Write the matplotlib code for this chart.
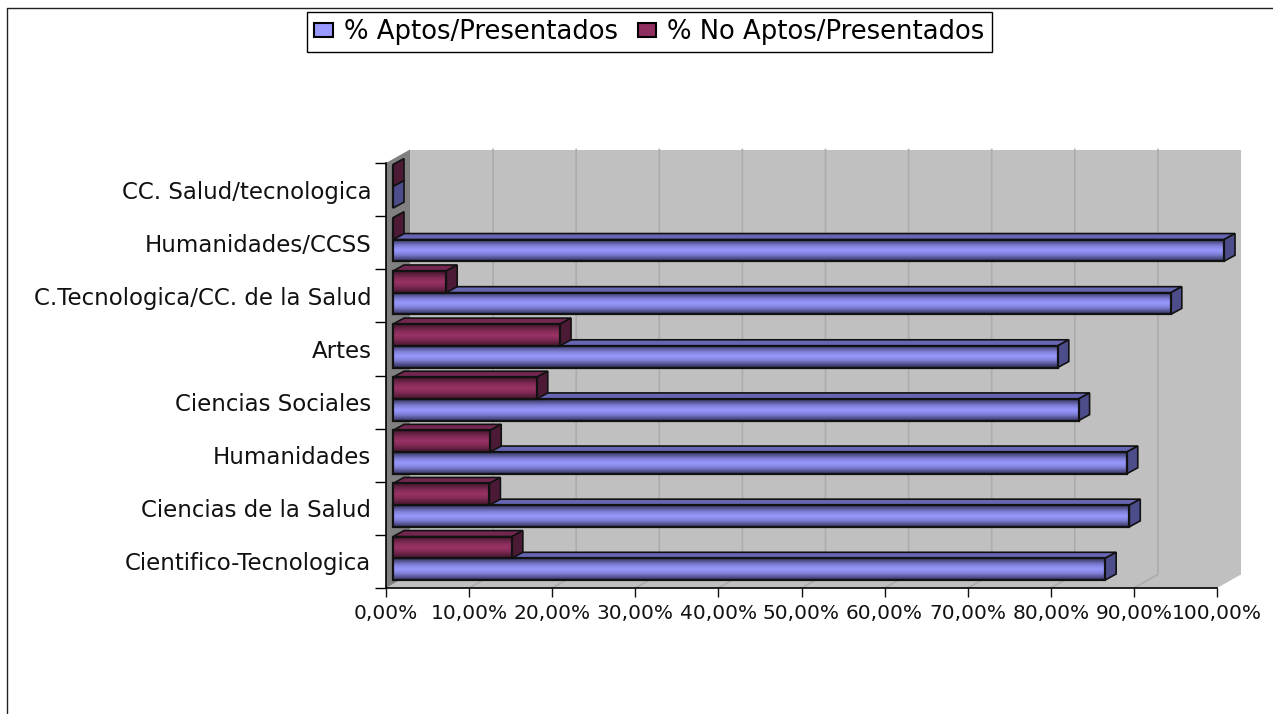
import numpy as np
import matplotlib
matplotlib.use("Agg")
import matplotlib.pyplot as plt
from matplotlib.colors import LinearSegmentedColormap
from matplotlib.lines import Line2D
from matplotlib.patches import Patch, Polygon

categories = ["Cientifico-Tecnologica", "Ciencias de la Salud", "Humanidades",
              "Ciencias Sociales", "Artes", "C.Tecnologica/CC. de la Salud",
              "Humanidades/CCSS", "CC. Salud/tecnologica"]
aptos = [85.7, 88.6, 88.3, 82.5, 80.0, 93.6, 100.0, 0.0]
no_aptos = [14.3, 11.6, 11.7, 17.3, 20.1, 6.4, 0.0, 0.0]
x_ticks = [0, 10, 20, 30, 40, 50, 60, 70, 80, 90, 100]
x_labels = ["0,00%", "10,00%", "20,00%", "30,00%", "40,00%", "50,00%",
            "60,00%", "70,00%", "80,00%", "90,00%", "100,00%"]

W, H = 1273, 714
# one category is 53.1 px tall, 10% is 83.1 px wide
PX_X = 100 / 831
PX_Y = 8 / 425
wall_dx, wall_dy = 24 * PX_X, 13.5 * PX_Y
bar_x0 = 7 * PX_X
bar_h = 21.7 * PX_Y
bar_y0 = 8 * PX_Y
depth_dx, depth_dy = 11 * PX_X, 6 * PX_Y

blue = LinearSegmentedColormap.from_list(
    "blue", [(0, "#34345f"), (0.3, "#8080d8"), (0.5, "#9999ff"), (0.7, "#8080d8"), (1, "#34345f")])
red = LinearSegmentedColormap.from_list(
    "red", [(0, "#43162d"), (0.3, "#822b56"), (0.5, "#993366"), (0.7, "#822b56"), (1, "#43162d")])

plt.rcParams["font.family"] = "DejaVu Sans"
fig = plt.figure(figsize=(W / 100, H / 100), dpi=100)
ax = fig.add_axes([386 / W, (H - 588) / H, 831 / W, 425 / H])
ax.patch.set_visible(False)


def poly(points, color, z, edge="none", lw=0):
    ax.add_patch(Polygon(points, closed=True, facecolor=color, edgecolor=edge,
                         linewidth=lw, zorder=z, clip_on=False))


def bar3d(value, y0, cmap, top, side, z):
    x0, x1 = bar_x0, bar_x0 + value
    y1 = y0 + bar_h
    poly([(x0, y1), (x1, y1), (x1 + depth_dx, y1 + depth_dy), (x0 + depth_dx, y1 + depth_dy)],
         top, z, "#111111", 1.2)
    poly([(x1, y0), (x1 + depth_dx, y0 + depth_dy), (x1 + depth_dx, y1 + depth_dy), (x1, y1)],
         side, z, "#111111", 1.2)
    if value > 0:
        ax.imshow(np.linspace(0, 1, 32)[:, None], cmap=cmap, aspect="auto",
                  extent=(x0, x1, y0, y1), zorder=z, clip_on=False)
    poly([(x0, y0), (x1, y0), (x1, y1), (x0, y1)], "none", z, "#111111", 1.6)


n = len(categories)
# walls and floor
poly([(wall_dx, wall_dy), (100 + wall_dx, wall_dy), (100 + wall_dx, n + wall_dy), (wall_dx, n + wall_dy)],
     "#c0c0c0", 1)
poly([(0, 0), (100, 0), (100 + wall_dx, wall_dy), (wall_dx, wall_dy)], "#c0c0c0", 1)
poly([(0, 0), (wall_dx, wall_dy), (wall_dx, n + wall_dy), (0, n)], "#808080", 1)
for t in x_ticks[1:-1]:
    ax.plot([t, t + wall_dx, t + wall_dx], [0, wall_dy, n + wall_dy], color="#acacac",
            lw=1.2, zorder=2, clip_on=False)

for i in range(n - 1, -1, -1):
    z = 10 + (n - i) * 2
    bar3d(aptos[i], i + bar_y0, blue, "#6666b3", "#4d4d8c", z)
    bar3d(no_aptos[i], i + bar_y0 + bar_h, red, "#732650", "#4d1a36", z + 1)

ax.set_xlim(0, 100)
ax.set_ylim(0, n)
for s in ["top", "right"]:
    ax.spines[s].set_visible(False)
for s in ["left", "bottom"]:
    ax.spines[s].set_linewidth(1.2)
    ax.spines[s].set_zorder(40)

ax.set_xticks(x_ticks)
ax.set_xticklabels(x_labels, fontsize=14.5)
ax.tick_params(axis="x", length=6.5, width=1, pad=5, colors="#111111")
ax.set_yticks(range(n + 1))
ax.set_yticklabels([])
ax.set_yticks(np.arange(n) + 0.5, minor=True)
ax.set_yticklabels(categories, minor=True, fontsize=16.5)
ax.tick_params(axis="y", which="major", length=8, width=1)
ax.tick_params(axis="y", which="minor", length=0, pad=10.5, colors="#111111")

handles = [Patch(facecolor="#9999ff", edgecolor="black", linewidth=1.5),
           Patch(facecolor="#8f2f60", edgecolor="black", linewidth=1.5)]
leg = fig.legend(handles, ["% Aptos/Presentados", "% No Aptos/Presentados"], ncol=2,
                 loc="upper center", bbox_to_anchor=(649.5 / W, 1 - 12 / H),
                 fontsize=18.6, fancybox=False, framealpha=1, edgecolor="black",
                 borderpad=0.28, handlelength=0.7, handleheight=0.45, handletextpad=0.45,
                 columnspacing=0.75, borderaxespad=0)
leg.get_frame().set_linewidth(1)

# chart border, cut off by the picture on the right and bottom
fig.add_artist(Line2D([7 / W, 7 / W, 1], [0, 1 - 8 / H, 1 - 8 / H], color="#222222", lw=1))

fig.savefig("out.png", dpi=100)
